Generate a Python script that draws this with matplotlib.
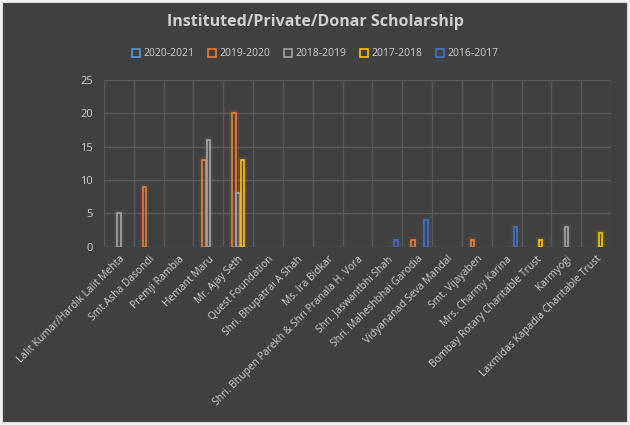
import numpy as np
import matplotlib.pyplot as plt
from matplotlib.patches import Rectangle

categories = [
  "Lalit Kumar/Hardik Lalit Mehta", "Smt.Asha Dasondi", "Premji Rambia",
  "Hemant Maru", "Mr. Ajay Seth", "Quest Foundation", "Shri. Bhupatrai A Shah",
  "Ms. Ira Bidkar", "Shri. Bhupen Parekh & Shri Pranala H. Vora",
  "Shri. Jaswantbhi Shah", "Shri. Maheshbhai Garodia", "Vidyananad Seva Mandal",
  "Smt. Vijayaben", "Mrs. Charmy Karina", "Bombay Rotary Charitable Trust",
  "Karmyogi", "Laxmidas Kapadia Charitable Trust",
]
series = ["2020-2021", "2019-2020", "2018-2019", "2017-2018", "2016-2017"]
colors = ["#5B9BD5", "#ED7D31", "#A5A5A5", "#FFC000", "#4472C4"]

v2020 = [0, 0, 0, 0, 0, 0, 0, 0, 0, 0, 0, 0, 0, 0, 0, 0, 0]
v2019 = [0, 9, 0, 13, 20, 0, 0, 0, 0, 0, 1, 0, 1, 0, 0, 0, 0]
v2018 = [5, 0, 0, 16, 8, 0, 0, 0, 0, 0, 0, 0, 0, 0, 0, 3, 0]
v2017 = [0, 0, 0, 0, 13, 0, 0, 0, 0, 0, 0, 0, 0, 0, 1, 0, 2]
v2016 = [0, 0, 0, 0, 0, 0, 0, 0, 0, 1, 4, 0, 0, 3, 0, 0, 0]
values = [v2020, v2019, v2018, v2017, v2016]

bg = "#404040"
txt = "#D0D0D0"
plt.rcParams["font.family"] = ["Open Sans", "DejaVu Sans"]

fig = plt.figure(figsize=(6.3, 4.25), dpi=100, facecolor="#F2F2F2")
fig.patches.append(Rectangle((2 / 630, 3 / 425), 625 / 630, 420 / 425,
                             transform=fig.transFigure, facecolor=bg,
                             edgecolor="#D9D9D9", lw=0.8, zorder=-1))

ax = fig.add_axes([104 / 630, 1 - 246.7 / 425, 507 / 630, 166.7 / 425])
ax.set_facecolor(bg)

x = np.arange(len(categories))
slot = 0.145
for i, (name, vals, c) in enumerate(zip(series, values, colors)):
  h = np.array(vals, dtype=float)
  keep = h > 0
  pos = (x + (i - 2) * slot)[keep]
  # soft glow behind the outline
  ax.bar(pos, h[keep], width=slot * 0.8, facecolor="none", edgecolor=c,
         linewidth=4, alpha=0.12, zorder=2)
  ax.bar(pos, h[keep], width=slot * 0.8, facecolor="none", edgecolor=c,
         linewidth=1.2, zorder=3)
  ax.bar([np.nan], [np.nan], facecolor="none", edgecolor=c, linewidth=1.2,
         label=name)

ax.set_xlim(-0.5, len(categories) - 0.5)
ax.set_ylim(0, 25)
ax.set_yticks(range(0, 26, 5))
ax.set_xticks(x)
ax.set_xticklabels(categories, rotation=45, ha="right", va="top",
                   rotation_mode="anchor", fontsize=7.4, color=txt)
ax.set_xticks(np.arange(-0.5, len(categories), 1), minor=True)
ax.tick_params(axis="x", which="both", length=0, pad=5)
ax.tick_params(axis="y", length=0, labelsize=8, labelcolor=txt, pad=8)
ax.grid(axis="y", color="#585858", lw=1)
ax.grid(axis="x", which="minor", color="#585858", lw=1)
ax.grid(axis="x", which="major", visible=False)
ax.set_axisbelow(True)
for s in ax.spines.values():
  s.set_visible(False)

fig.text(0.5, 1 - 22 / 425, "Instituted/Private/Donar Scholarship",
         ha="center", va="center", fontsize=11.5, fontweight="bold", color=txt)
leg = fig.legend(loc="center", bbox_to_anchor=(0.5, 1 - 54 / 425), ncol=5,
                 frameon=False, fontsize=7.5, labelcolor=txt,
                 handlelength=0.8, handleheight=0.8, handletextpad=0.3,
                 columnspacing=1.3)

fig.savefig("out.png", dpi=100, facecolor=fig.get_facecolor())
